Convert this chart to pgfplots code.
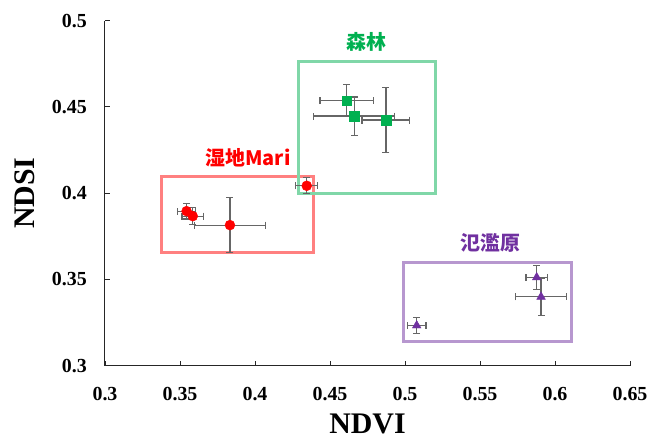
\documentclass[border=0pt]{standalone}
\usepackage{fontspec}
\setmainfont{Liberation Serif}
\newfontfamily\cjk{Noto Sans CJK SC}
\usepackage{pgfplots}
\usepackage{pgfplotstable}
\pgfplotsset{compat=1.18}

\definecolor{wetred}{HTML}{FF0000}
\definecolor{forestgreen}{HTML}{00B050}
\definecolor{floodpurple}{HTML}{7030A0}
\definecolor{errgray}{HTML}{666666}

% NDVI, NDSI, and their standard deviations
\pgfplotstableread{
x      y      ex     ey
0.3544 0.3896 0.0060 0.0045
0.3585 0.3867 0.0072 0.0050
0.3833 0.3815 0.0237 0.0158
0.4345 0.4043 0.0073 0.0046
}\wetland

\pgfplotstableread{
x      y      ex     ey
0.4611 0.4536 0.0178 0.0093
0.4662 0.4447 0.0270 0.0111
0.4873 0.4424 0.0159 0.0190
}\forest

\pgfplotstableread{
x      y      ex     ey
0.5078 0.3233 0.0062 0.0048
0.5878 0.3512 0.0071 0.0070
0.5907 0.3399 0.0168 0.0106
}\flood

\begin{document}
\begin{tikzpicture}
\path[use as bounding box] (-105bp,-73.3bp) rectangle (546bp,365.7bp);
\begin{axis}[
  scale only axis,
  width=525bp, height=345bp,
  at={(0,0)}, anchor=south west,
  xmin=0.3, xmax=0.65, ymin=0.3, ymax=0.5,
  axis lines*=left,
  axis line style={black!85, line width=1bp},
  tick align=inside,
  major tick length=5bp,
  tick style={black!85, line width=0.9bp},
  /pgf/number format/assume math mode=true,
  xtick={0.3,0.35,0.4,0.45,0.5,0.55,0.6,0.65},
  xticklabels={0.3,0.35,0.4,0.45,0.5,0.55,0.6,0.65},
  ytick={0.3,0.35,0.4,0.45,0.5},
  yticklabels={0.3,0.35,0.4,0.45,0.5},
  ticklabel style={font=\bfseries\fontsize{20}{20}\selectfont},
  xticklabel style={anchor=north, inner sep=0pt, yshift=-21bp},
  yticklabel style={anchor=east, inner sep=0pt, xshift=-18bp},
  xlabel={NDVI}, ylabel={NDSI},
  label style={font=\bfseries\fontsize{30}{30}\selectfont, inner sep=0pt},
  xlabel style={at={(axis description cs:0.5,-0.168)}, anchor=center},
  ylabel style={at={(axis description cs:-0.1524,0.5)}, anchor=center},
  clip=false,
]
% group outlines
\addplot[draw=wetred!50, line width=3bp, mark=none]
  coordinates {(0.3378,0.3654) (0.4393,0.3654) (0.4393,0.4095) (0.3378,0.4095)} -- cycle;
\addplot[draw=forestgreen!50, line width=3bp, mark=none]
  coordinates {(0.4289,0.3999) (0.5205,0.3999) (0.5205,0.4766) (0.4289,0.4766)} -- cycle;
\addplot[draw=floodpurple!50, line width=3bp, mark=none]
  coordinates {(0.4993,0.3138) (0.6111,0.3138) (0.6111,0.3596) (0.4993,0.3596)} -- cycle;

% error bars (with capped ends)
\pgfplotsset{
  errstyle/.style={
    only marks, mark=*, mark size=0.5bp, errgray,
    error bars/.cd,
      x dir=both, x explicit, y dir=both, y explicit,
      error bar style={line width=1.2bp, errgray},
      error mark options={line width=1.2bp, mark size=3.5bp, errgray, rotate=90},
  },
}
\addplot[errstyle] table[x=x, y=y, x error=ex, y error=ey] {\wetland};
\addplot[errstyle] table[x=x, y=y, x error=ex, y error=ey] {\forest};
\addplot[errstyle] table[x=x, y=y, x error=ex, y error=ey] {\flood};

% group means
\addplot[only marks, mark=*, mark size=5bp, wetred, mark options={draw=wetred, fill=wetred}]
  table[x=x, y=y] {\wetland};
\addplot[only marks, mark=square*, mark size=4.8bp, forestgreen, mark options={draw=forestgreen, fill=forestgreen}]
  table[x=x, y=y] {\forest};
\addplot[only marks, mark=triangle*, mark size=5bp, floodpurple, mark options={draw=floodpurple, fill=floodpurple}]
  table[x=x, y=y] {\flood};

% group names
\node[wetred, font=\cjk\bfseries\fontsize{20}{20}\selectfont] at (axis cs:0.3953,0.4204) {湿地Mari};
\node[forestgreen, font=\cjk\bfseries\fontsize{20}{20}\selectfont] at (axis cs:0.4745,0.4879) {森林};
\node[floodpurple, font=\cjk\bfseries\fontsize{20}{20}\selectfont] at (axis cs:0.5567,0.3709) {氾濫原};
\end{axis}
\end{tikzpicture}
\end{document}
